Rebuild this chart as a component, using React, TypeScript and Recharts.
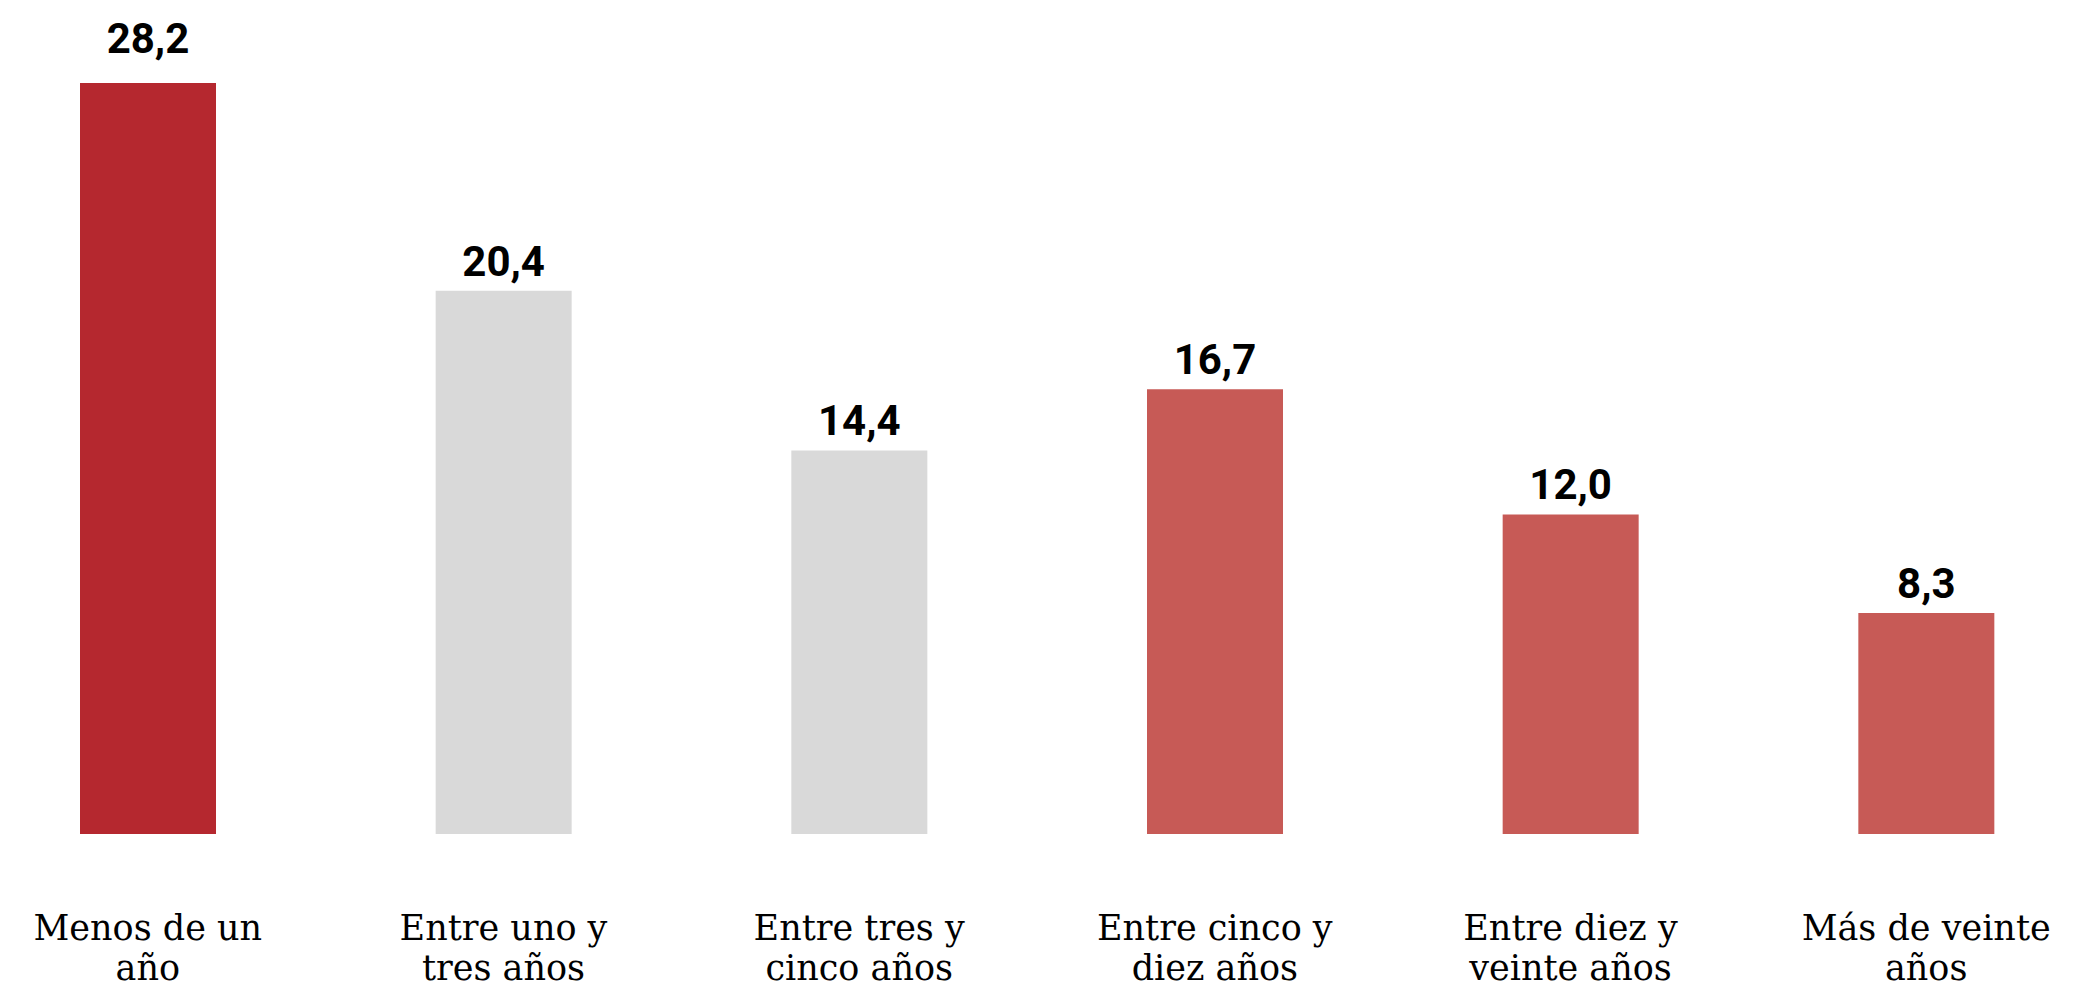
import { BarChart, Bar, XAxis, YAxis, Cell, LabelList } from "recharts";

const CATEGORIES = [
  "Menos de un año",
  "Entre uno y tres años",
  "Entre tres y cinco años",
  "Entre cinco y diez años",
  "Entre diez y veinte años",
  "Más de veinte años",
];
const VALUES = [28.2, 20.4, 14.4, 16.7, 12.0, 8.3];
const COLORS = ["#b5282f", "#d9d9d9", "#d9d9d9", "#c75a56", "#c75a56", "#c75a56"];

const data = CATEGORIES.map((name, i) => ({ name, value: VALUES[i] }));

const LABEL_FONT = "Roboto, 'Noto Sans', sans-serif";
const TICK_FONT = "'DejaVu Serif', serif";

// greedy word wrap, roughly 13 characters per line
function wrap(label: string, max = 13) {
  const lines: string[] = [];
  let cur = "";
  for (const w of label.split(" ")) {
    const next = cur ? cur + " " + w : w;
    if (next.length > max && cur) {
      lines.push(cur);
      cur = w;
    } else {
      cur = next;
    }
  }
  if (cur) lines.push(cur);
  return lines;
}

function CategoryTick({ x, y, payload }: any) {
  const lines = wrap(payload.value);
  return (
    <text x={x} y={y + 98} textAnchor="middle" fontFamily={TICK_FONT} fontSize={35} fill="#000">
      {lines.map((l, i) => (
        <tspan key={i} x={x} dy={i === 0 ? 0 : 40}>
          {l}
        </tspan>
      ))}
    </text>
  );
}

function ValueLabel({ x, y, width, value, index }: any) {
  const off = index === 0 ? 30 : 15;
  return (
    <text
      x={x + width / 2}
      y={y - off}
      textAnchor="middle"
      fontFamily={LABEL_FONT}
      fontWeight={700}
      fontSize={42}
      fill="#000"
    >
      {Number(value).toFixed(1).replace(".", ",")}
    </text>
  );
}

export default function App() {
  return (
    <div style={{ position: "absolute", left: 0, top: 0, background: "#fff" }}>
      <BarChart width={2100} height={991} data={data} margin={{ top: 35, right: -4, left: -30, bottom: 0 }}>
        <XAxis
          dataKey="name"
          axisLine={false}
          tickLine={false}
          interval={0}
          height={157}
          tick={(p: any) => <CategoryTick x={p.x} y={p.y} payload={p.payload} />}
        />
        <YAxis hide domain={[0, 30]} />
        <Bar dataKey="value" barSize={136} isAnimationActive={false}>
          {data.map((d, i) => (
            <Cell key={d.name} fill={COLORS[i]} />
          ))}
          <LabelList dataKey="value" content={<ValueLabel />} />
        </Bar>
      </BarChart>
    </div>
  );
}
